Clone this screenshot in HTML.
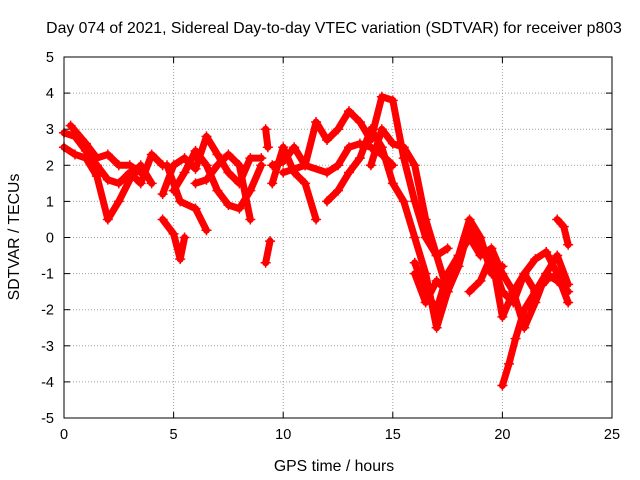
<!DOCTYPE html>
<html><head><meta charset="utf-8"><style>
body{margin:0;background:#fff}
svg{display:block;font-family:"Liberation Sans",sans-serif}
</style></head><body>
<svg id="chart" width="640" height="480" viewBox="0 0 640 480">
<text x="334" y="33" text-anchor="middle" font-size="15.8">Day 074 of 2021, Sidereal Day-to-day VTEC variation (SDTVAR) for receiver p803</text>
<text x="334" y="471" text-anchor="middle" font-size="15.8">GPS time / hours</text>
<text transform="translate(19,237) rotate(-90)" text-anchor="middle" font-size="15.8">SDTVAR / TECUs</text>
<g id="grid"></g>
<g id="ticks"></g>
<g id="series"></g>
<rect x="64" y="57" width="548" height="361" fill="none" stroke="#000" stroke-width="1"/>
</svg>
<script>
const xTicks=[0,5,10,15,20,25];
const yTicks=[-5,-4,-3,-2,-1,0,1,2,3,4,5];
const trackA=[[0,2.9],[0.5,2.8],[1,2.4],[1.5,2.0],[2,1.6],[2.5,1.5],[3,1.8],[3.5,1.5],[4,2.3],[4.5,2.0]];
const trackB=[[0,2.5],[0.5,2.3],[1,2.2],[1.5,1.7],[2,0.5],[2.5,1.0],[3,1.6],[3.5,2.0],[4,1.5]];
const trackC=[[0.3,3.1],[1,2.6],[1.5,2.2],[2,2.3],[2.5,2.0],[3,2.0],[3.5,1.8]];
const trackD=[[4.5,0.5],[5,0.1],[5.3,-0.6],[5.5,0]];
const trackE=[[4.5,1.2],[5,2.0],[5.5,2.2],[6,1.9],[6.5,2.8],[7,2.3],[7.5,1.8],[8,1.5],[8.5,2.2],[9,2.2]];
const trackF=[[4.7,2.0],[5.3,1.0],[6,0.8],[6.5,0.2]];
const trackG=[[5,1.3],[5.5,1.8],[6,2.4],[6.5,2.0],[7,1.3],[7.5,0.9],[8,0.8],[8.5,1.3],[9,2.0]];
const trackH=[[6,1.5],[6.5,1.6],[7,2.0],[7.5,2.3],[8,2.0],[8.5,0.5]];
const trackI=[[9.2,-0.7],[9.4,-0.1]];
const trackI2=[[9.2,3.0],[9.3,2.5]];
const trackJ=[[9.5,1.5],[10,2.5],[10.5,1.8],[11,1.5],[11.5,0.5]];
const trackK=[[9.5,2.0],[10,2.1],[10.5,2.5],[11,2.0],[11.5,3.2],[12,2.7],[12.5,3.0],[13,3.5],[13.5,3.2],[14,2.7],[14.5,3.9],[15,3.8],[15.5,2.2],[16,1.0],[16.5,0],[17,-0.5],[17.5,-1.5]];
const trackL=[[10,1.8],[11,2.0],[12,1.8],[12.5,2.0],[13,2.5],[13.5,2.6],[14,2.5],[14.5,2.3],[15,2.0]];
const trackM=[[12,1.0],[12.5,1.3],[13,1.8],[13.5,2.2],[14,3.0],[14.5,2.5],[15,1.5],[15.5,1.0],[16,0],[16.5,-1.0],[17,-2.5],[17.5,-1.5],[18,-0.5],[18.5,0.5],[19,0],[19.5,-1],[20,-0.8]];
const trackN=[[14,2.0],[14.5,3.0],[15,2.6],[15.5,2.5],[16,2.0],[16.5,0.5],[17,-0.5],[17.5,-0.3]];
const trackO=[[16,-0.7],[16.5,-1.5],[17,-2.0],[17.5,-1.0],[18,-0.5],[18.5,0],[19,-0.5],[19.5,-0.3],[20,-1.0],[20.5,-1.5],[21,-1.0],[21.5,-0.6],[22,-0.4],[22.5,-1.0],[23,-1.8]];
const trackP=[[16,-1.0],[16.5,-1.8],[17,-1.2],[17.5,-1.5],[18,-0.8],[18.5,0.3],[19,-0.2],[19.5,-0.6],[20,-1.5],[20.5,-1.8],[21,-1.0],[21.5,-1.5],[22,-1.0],[22.5,-1.2],[23,-1.5]];
const trackQ=[[18.5,-1.5],[19,-1.2],[19.5,-0.5],[20,-2.2],[20.5,-1.5],[21,-2.5],[21.5,-1.8],[22,-1.0],[22.5,-0.5],[23,-1.3]];
const trackR=[[20,-4.1],[20.3,-3.5],[20.6,-2.8],[21,-2.0],[21.5,-1.5],[22,-1.2]];
const trackS=[[22.5,0.5],[22.8,0.3],[23,-0.2]];
const tracks=[trackA,trackB,trackC,trackD,trackE,trackF,trackG,trackH,trackI,trackI2,trackJ,trackK,trackL,trackM,trackN,trackO,trackP,trackQ,trackR,trackS];

const X0=64,X1=612,Y0=418,Y1=57;
const xs=t=>X0+(t-0)/25*(X1-X0);
const ys=v=>Y0-(v+5)/10*(Y0-Y1);
const NS="http://www.w3.org/2000/svg";
const grid=document.getElementById('grid'),ticks=document.getElementById('ticks'),series=document.getElementById('series');
function mk(tag,attrs,parent){const e=document.createElementNS(NS,tag);for(const k in attrs)e.setAttribute(k,attrs[k]);parent.appendChild(e);return e;}
xTicks.forEach(t=>{
  const x=xs(t);
  if(t>0&&t<25){const g=mk('line',{x1:x,x2:x,y1:Y0,y2:Y1,stroke:'#a0a0a0','stroke-dasharray':'1,2'},grid);
  
  }
  mk('line',{x1:x,x2:x,y1:Y0,y2:Y0-6,stroke:'#000'},ticks);
  mk('line',{x1:x,x2:x,y1:Y1,y2:Y1+6,stroke:'#000'},ticks);
  const l=mk('text',{x:x,y:Y0+21,'text-anchor':'middle','font-size':14.5},ticks);l.textContent=t;
  
  
});
yTicks.forEach(v=>{
  const y=ys(v);
  if(v>-5&&v<5){const g=mk('line',{x1:X0,x2:X1,y1:y,y2:y,stroke:'#a0a0a0','stroke-dasharray':'1,2'},grid);
  
  }
  mk('line',{x1:X0,x2:X0+6,y1:y,y2:y,stroke:'#000'},ticks);
  mk('line',{x1:X1,x2:X1-6,y1:y,y2:y,stroke:'#000'},ticks);
  const l=mk('text',{x:X0-10,y:y+5,'text-anchor':'end','font-size':14.5},ticks);l.textContent=v;
  
  
});
tracks.forEach(tr=>{
  const p=mk('polyline',{points:tr.map(d=>xs(d[0])+','+ys(d[1])).join(' '),fill:'none',stroke:'#ff0000','stroke-width':7,'stroke-linejoin':'round','stroke-linecap':'round'},series);
  
  
  tr.forEach(d=>{
    const x=xs(d[0]),y=ys(d[1]);
    const m=mk('path',{d:`M${x-5},${y}H${x+5}M${x},${y-5}V${y+5}`,stroke:'#ff0000','stroke-width':1.5},series);
    
    
  });
});
</script>
</body></html>
